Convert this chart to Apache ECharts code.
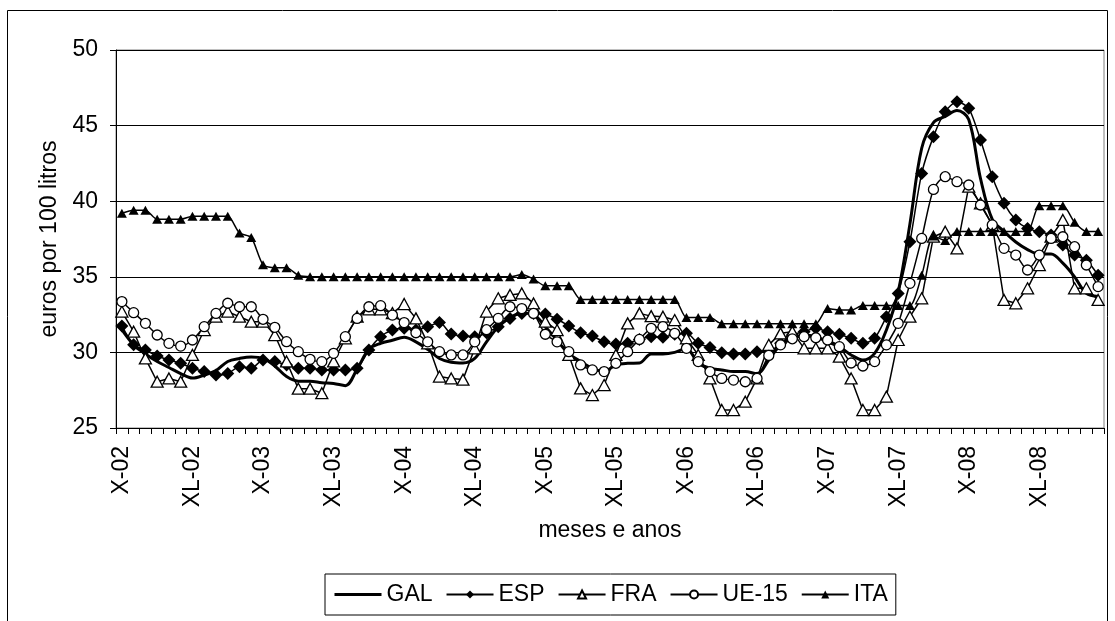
<!DOCTYPE html>
<html>
<head>
<meta charset="utf-8">
<script src="https://cdn.jsdelivr.net/npm/echarts@6/dist/echarts.min.js"></script>
<style>
html,body{margin:0;padding:0;background:#fff;}
#chart{width:1115px;height:621px;}
</style>
</head>
<body>
<div id="chart"></div>
<script>
// month codes (Galician) and years
const monthCodes = ["X","F","M","A","MA","XN","XL","AG","S","O","N","D"];
const years = ["02","03","04","05","06","07","08"];
const categories = [];
years.forEach(y => monthCodes.forEach(m => categories.push(m + "-" + y)));

const GAL = [31.5,30.5,29.9,29.4,29.0,28.6,28.3,28.5,28.8,29.4,29.6,29.7,
  29.6,29.1,28.4,28.1,28.1,28.0,27.95,27.8,28.9,30.2,30.6,30.8,
  31.0,30.7,30.2,29.6,29.35,29.3,29.6,30.7,31.7,32.3,32.6,32.5,
  31.7,30.8,29.9,29.4,28.95,28.75,29.17,29.28,29.3,29.9,29.9,30.0,
  30.25,29.3,28.95,28.84,28.73,28.73,28.6,29.5,30.5,30.9,31.15,31.04,
  30.7,30.38,29.83,29.5,29.94,31.48,34.0,38.5,43.5,45.2,45.6,46.0,
  45.4,41.5,38.8,38.0,37.3,36.8,36.5,36.5,35.9,35.0,33.9,33.7];

const ESP = [31.75,30.5,30.16,29.76,29.5,29.28,28.95,28.73,28.5,28.6,29.05,28.95,
  29.5,29.4,29.17,28.95,28.95,28.84,28.84,28.84,28.95,30.16,31.04,31.48,
  31.59,31.48,31.7,31.97,31.22,31.08,31.04,31.3,31.7,32.25,32.58,32.58,
  32.54,32.19,31.75,31.3,31.08,30.7,30.55,30.6,30.86,31.04,31.0,31.2,
  31.26,30.6,30.33,29.98,29.9,29.9,30.05,30.05,30.6,31.15,31.37,31.59,
  31.37,31.2,30.93,30.6,30.93,32.36,33.9,37.32,41.84,44.27,45.92,46.58,
  46.14,44.05,41.62,39.86,38.76,38.2,37.98,37.76,37.1,36.44,36.1,35.1];

const FRA = [32.7,31.37,29.6,28.06,28.28,28.06,29.83,31.48,32.36,32.7,32.36,32.03,
  32.03,31.15,29.4,27.6,27.6,27.3,29.4,30.93,32.36,32.85,32.85,32.6,
  33.2,32.25,30.6,28.4,28.28,28.2,30.27,32.7,33.58,33.8,33.9,33.24,
  32.03,31.48,29.83,27.62,27.18,27.84,29.83,31.92,32.58,32.4,32.36,32.14,
  30.93,29.83,28.28,26.19,26.19,26.74,28.28,30.5,31.26,31.37,30.27,30.27,
  30.27,29.72,28.28,26.19,26.19,27.07,30.82,32.36,33.58,37.65,37.98,36.88,
  40.96,39.86,38.43,33.47,33.25,34.24,35.78,37.65,38.76,34.24,34.24,33.47];

const UE15 = [33.36,32.63,31.92,31.15,30.6,30.42,30.82,31.7,32.58,33.25,33.02,33.02,
  32.19,31.66,30.71,30.05,29.54,29.39,29.94,31.04,32.25,33.02,33.09,32.47,
  31.97,31.3,30.7,30.05,29.83,29.83,30.7,31.5,32.25,33.02,32.9,32.58,
  31.2,30.7,30.05,29.17,28.84,28.73,29.28,30.05,30.86,31.59,31.7,31.26,
  30.27,29.39,28.73,28.28,28.17,28.06,28.28,29.8,30.5,30.9,31.04,30.97,
  30.82,30.38,29.3,29.1,29.39,30.5,31.92,34.57,37.54,40.78,41.62,41.29,
  41.07,39.75,38.43,36.88,36.44,35.45,36.44,37.54,37.65,36.99,35.78,34.35];

const ITA = [39.2,39.4,39.4,38.8,38.8,38.8,39.0,39.0,39.0,39.0,37.9,37.6,
  35.8,35.6,35.6,35.1,35.0,35.0,35.0,35.0,35.0,35.0,35.0,35.0,
  35.0,35.0,35.0,35.0,35.0,35.0,35.0,35.0,35.0,35.0,35.15,34.85,
  34.4,34.4,34.4,33.5,33.5,33.5,33.5,33.5,33.5,33.5,33.5,33.5,
  32.3,32.3,32.3,31.9,31.9,31.9,31.9,31.9,31.9,31.9,31.9,31.9,
  32.9,32.8,32.8,33.1,33.1,33.1,33.1,33.1,35.1,37.7,37.4,38.0,
  38.0,38.0,38.0,38.0,38.0,38.0,39.7,39.7,39.7,38.6,38.0,38.0];

const seriesNames = ["GAL","ESP","FRA","UE-15","ITA"];
const yTicks = {min:25, max:50, interval:5};

const FONT = "'Liberation Sans', Arial, sans-serif";
const FS = 23;
const chart = echarts.init(document.getElementById('chart'), null, {renderer:'canvas'});

function line(name, data, opts) {
  return Object.assign({
    name: name, type: 'line', data: data, smooth: 0.25,
    showAllSymbol: true,
    lineStyle: {color:'#000', width:1.5},
    itemStyle: {color:'#000', borderColor:'#000', borderWidth:1.2},
    emphasis: {disabled:true},
    animation: false
  }, opts);
}

chart.setOption({
  backgroundColor: '#fff',
  animation: false,
  textStyle: {fontFamily: FONT, color:'#000'},
  graphic: [{
    type:'rect', shape:{x:7.5, y:10.5, width:1100, height:630},
    style:{fill:'none', stroke:'#000', lineWidth:1}, silent:true, z:-1
  }],
  grid: {left:116, top:50, right:11, bottom:193, show:true, borderColor:'#808080', borderWidth:1},
  legend: {
    data: [
      {name:'GAL', itemStyle:{opacity:0}, lineStyle:{width:3, color:'#000'}},
      {name:'ESP'}, {name:'FRA'}, {name:'UE-15'}, {name:'ITA'}
    ],
    left: 325, top: 574,
    orient:'horizontal',
    padding:[9,8,9,8],
    borderColor:'#000', borderWidth:1,
    itemWidth:47, itemHeight:10, itemGap:13,
    textStyle:{fontFamily:FONT, fontSize:FS, color:'#000'},
    inactiveColor:'#000'
  },
  xAxis: {
    type:'category', data: categories, boundaryGap:true,
    name:'meses e anos', nameLocation:'middle', nameGap:91,
    nameTextStyle:{fontFamily:FONT, fontSize:FS, color:'#000'},
    axisLine:{lineStyle:{color:'#000', width:1}},
    axisTick:{show:true, interval:0, length:6, inside:false, lineStyle:{color:'#000'}},
    axisLabel:{interval:5, rotate:90, margin:18, fontFamily:FONT, fontSize:FS, color:'#000'},
    splitLine:{show:false}
  },
  yAxis: {
    type:'value', min:yTicks.min, max:yTicks.max, interval:yTicks.interval,
    name:'euros por 100 litros', nameLocation:'middle', nameGap:46,
    nameTextStyle:{fontFamily:FONT, fontSize:FS, color:'#000'},
    axisLine:{show:true, lineStyle:{color:'#000', width:1}},
    axisTick:{show:true, length:6, inside:false, lineStyle:{color:'#000'}},
    axisLabel:{margin:18, fontFamily:FONT, fontSize:FS, color:'#000'},
    splitLine:{show:true, lineStyle:{color:'#000', width:1}}
  },
  series: [
    line('GAL', GAL, {symbol:'none', lineStyle:{color:'#000', width:3}, smooth:0.35}),
    line('ESP', ESP, {symbol:'diamond', symbolSize:[13,13], itemStyle:{color:'#000'}}),
    line('FRA', FRA, {symbol:'triangle', symbolSize:[12,11], smooth:false, itemStyle:{color:'#fff', borderColor:'#000', borderWidth:1.3}}),
    line('UE-15', UE15, {symbol:'circle', symbolSize:10, itemStyle:{color:'#fff', borderColor:'#000', borderWidth:1.3}}),
    line('ITA', ITA, {symbol:'triangle', symbolSize:[10,9], itemStyle:{color:'#000'}})
  ]
});
</script>
</body>
</html>
